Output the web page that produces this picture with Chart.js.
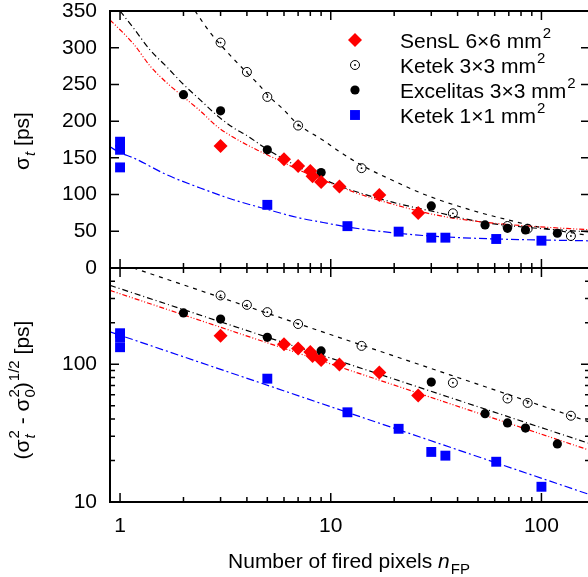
<!DOCTYPE html>
<html>
<head>
<script src="https://cdn.jsdelivr.net/npm/chart.js@4.4.1/dist/chart.umd.min.js"></script>
<style>
body { margin: 0; width: 588px; height: 577px; overflow: hidden; background: #fff; position: relative; }
canvas { position: absolute; left: 0; top: 0; }
</style>
</head>
<body>
<canvas id="topChart" width="600" height="577"></canvas>
<canvas id="botChart" width="600" height="577"></canvas>
<script>
// axis ranges and ticks
var xMin = 0.896, xMax = 170;
var xMajorTicks = [1, 10, 100];
var xMinorTicks = [2, 3, 4, 5, 6, 7, 8, 9, 20, 30, 40, 50, 60, 70, 80, 90];
var topYTicks = [0, 50, 100, 150, 200, 250, 300, 350];
var botYMajor = [10, 100];
var botYMinor = [20, 30, 40, 50, 60, 70, 80, 90, 200, 300, 400];

// SensL 6x6 mm2
var sensN     = [3, 6, 7, 8, 8.2, 9, 11, 17, 26];
var sensSigma = [166, 148, 139, 132, 125, 117, 111, 99.5, 75];
var sensCorr  = [161, 140, 130, 123, 115, 107.6, 99.5, 87, 59.3];
// Ketek 3x3 mm2
var k3N     = [3, 4, 5, 7, 14, 38, 69, 86, 138];
var k3Sigma = [307, 267, 233, 194, 136, 74.5, 57.2, 53.5, 43.6];
var k3Corr  = [316, 270, 239, 196, 136, 73.4, 56.4, 52.4, 42.3];
// Excelitas 3x3 mm2
var exN     = [2, 3, 5, 9, 30, 54, 69, 84, 119];
var exSigma = [236, 214, 161, 130, 84.5, 58.6, 54, 51.8, 47.3];
var exCorr  = [236, 213, 157, 125, 74.3, 43.8, 37.5, 34.4, 26.4];
// Ketek 1x1 mm2
var k1N     = [1, 1, 1, 5, 12, 21, 30, 35, 61, 100];
var k1Sigma = [172, 161, 137, 86, 57, 49.5, 41.3, 41.3, 39.5, 37.2];
var k1Corr  = [168, 157, 133, 78.6, 44.8, 34, 23.1, 21.7, 19.6, 12.9];

// fit curves
var sensFitN = [0.896, 1.16, 1.39, 1.67, 2, 2.4, 2.88, 3.45, 4.6, 5.74, 7.14, 10.3, 13.3, 19.1, 31.8, 51, 88, 170];
var sensFit  = [338, 305, 275, 252, 233, 214, 193, 178, 159, 146, 133, 114, 102, 88, 72, 63, 57, 52];
var exFitN = [1.0, 1.157, 1.388, 1.665, 2, 2.4, 2.88, 3.45, 3.99, 4.97, 6.9, 10.3, 19.1, 31.8, 51, 88, 170];
var exFit  = [350, 327, 297, 274, 250, 229, 208, 191, 180.5, 162, 139, 115, 90.5, 76, 63, 55, 49];
var k3FitN = [2.27, 2.67, 3.0, 3.45, 4.0, 4.61, 5.0, 5.96, 6.9, 9.2, 11.07, 14, 19.1, 28.5, 47.5, 68.4, 100, 170];
var k3Fit  = [350, 321, 304, 285, 266, 248, 236, 216, 197, 174, 158, 140, 121, 99, 78, 66, 55, 44];
var k1FitN = [0.896, 1, 1.157, 1.665, 2.4, 3.45, 4.97, 7.14, 9.2, 11.9, 21.3, 31.8, 61.4, 170];
var k1Fit  = [165, 157, 150, 127, 109, 93, 80, 68, 62, 56, 47, 43, 39.5, 37];

// straight fits on the log-log panel
var k3LineN = [1.157, 170],  k3Line = [500, 38];
var exLineN = [0.896, 170],  exLine = [374, 26.5];
var sensLineN = [0.896, 170], sensLine = [344, 23.7];
var k1LineN = [0.896, 170],  k1Line = [172, 11.3];

var FONT = '"Liberation Sans", Arial, sans-serif';
Chart.defaults.font.family = FONT;
Chart.defaults.color = '#000';

function pts(xs, ys) {
  return xs.map(function(x, i) { return {x: x, y: ys[i]}; });
}

// text with sub/superscripts
function drawRich(ctx, segs, x, y, size, align) {
  var small = Math.round(size * 0.72);
  var f = function(s, it) { return (it ? 'italic ' : '') + s + 'px ' + FONT; };
  var items = segs.map(function(s) {
    if (s.t != null) { ctx.font = f(size, s.i); return {w: ctx.measureText(s.t).width, s: s}; }
    var ws = 0, wp = 0;
    if (s.sub) { ctx.font = f(small, s.subI); ws = ctx.measureText(s.sub).width; }
    if (s.sup) { ctx.font = f(small, false); wp = ctx.measureText(s.sup).width; }
    return {w: Math.max(ws, wp) + 1, s: s};
  });
  var total = 0;
  items.forEach(function(it) { total += it.w; });
  var cx = align === 'center' ? x - total / 2 : x;
  ctx.textAlign = 'left';
  ctx.textBaseline = 'alphabetic';
  items.forEach(function(it) {
    var s = it.s;
    if (s.t != null) { ctx.font = f(size, s.i); ctx.fillText(s.t, cx, y); }
    else {
      if (s.sub) { ctx.font = f(small, s.subI); ctx.fillText(s.sub, cx + 1, y + size * 0.3); }
      if (s.sup) { ctx.font = f(small, false); ctx.fillText(s.sup, cx + 1, y - size * 0.5); }
    }
    cx += it.w;
  });
}

// frame with inward ticks on all four sides
var framePlugin = {
  id: 'frame',
  afterDraw: function(chart, args, opts) {
    var ctx = chart.ctx, a = chart.chartArea;
    var sx = chart.scales.x, sy = chart.scales.y;
    ctx.save();
    ctx.strokeStyle = '#000';
    ctx.lineWidth = 1.5;
    ctx.beginPath();
    function xt(v, len) {
      var p = sx.getPixelForValue(v);
      ctx.moveTo(p, a.bottom); ctx.lineTo(p, a.bottom - len);
      ctx.moveTo(p, a.top); ctx.lineTo(p, a.top + len);
    }
    function yt(v, len) {
      var p = sy.getPixelForValue(v);
      ctx.moveTo(a.left, p); ctx.lineTo(a.left + len, p);
      ctx.moveTo(a.right, p); ctx.lineTo(a.right - len, p);
    }
    xMajorTicks.forEach(function(v) { xt(v, 9); });
    xMinorTicks.forEach(function(v) { xt(v, 5); });
    opts.yMajor.forEach(function(v) { yt(v, 9); });
    opts.yMinor.forEach(function(v) { yt(v, 5); });
    ctx.stroke();
    ctx.lineWidth = 2;
    ctx.strokeRect(a.left, a.top, a.right - a.left, a.bottom - a.top);
    ctx.fillStyle = '#000';
    opts.titles.forEach(function(t) {
      ctx.save();
      ctx.translate(t.x, t.y);
      if (t.rot) ctx.rotate(-Math.PI / 2);
      drawRich(ctx, t.segs, 0, 0, 21, 'center');
      ctx.restore();
    });
    ctx.restore();
  }
};

// legend inside the upper panel
var keyPlugin = {
  id: 'key',
  afterDraw: function(chart, args, opts) {
    if (!opts.show) return;
    var ctx = chart.ctx;
    var row = 0;
    chart.data.datasets.forEach(function(ds) {
      if (!ds.label) return;
      var y = 40 + row * 25;
      ctx.save();
      ctx.fillStyle = ds.backgroundColor;
      ctx.strokeStyle = ds.borderColor;
      ctx.lineWidth = ds.borderWidth;
      Chart.helpers.drawPoint(ctx, {pointStyle: ds.pointStyle, radius: ds.pointRadius, rotation: 0, borderWidth: ds.borderWidth}, 355, y);
      if (ds.centerDot) {
        ctx.fillStyle = '#000';
        ctx.beginPath(); ctx.arc(355, y, 0.9, 0, 2 * Math.PI); ctx.fill();
      }
      ctx.fillStyle = '#000';
      drawRich(ctx, [{t: ds.label}, {sup: '2'}], 400, y + 8, 21, 'left');
      ctx.restore();
      row++;
    });
  }
};

function markerSets(sigmaSens, sigmaK3, sigmaEx, sigmaK1) {
  return [
    {label: 'SensL 6×6 mm', data: pts(sensN, sigmaSens), pointStyle: 'rectRot', pointRadius: 7,
     backgroundColor: '#ff0000', borderColor: '#ff0000', borderWidth: 0},
    {label: 'Ketek 3×3 mm', data: pts(k3N, sigmaK3), pointStyle: 'circle', pointRadius: 4.5,
     backgroundColor: 'rgba(255,255,255,0)', borderColor: '#000', borderWidth: 1, centerDot: true},
    {data: pts(k3N, sigmaK3), pointStyle: 'circle', pointRadius: 0.9,
     backgroundColor: '#000', borderColor: '#000', borderWidth: 0},
    {label: 'Excelitas 3×3 mm', data: pts(exN, sigmaEx), pointStyle: 'circle', pointRadius: 4.6,
     backgroundColor: '#000', borderColor: '#000', borderWidth: 0},
    {label: 'Ketek 1×1 mm', data: pts(k1N, sigmaK1), pointStyle: 'rect', pointRadius: 7,
     backgroundColor: '#0000ff', borderColor: '#0000ff', borderWidth: 0}
  ];
}

function fitSet(xs, ys, color, dash) {
  return {data: pts(xs, ys), showLine: true, pointRadius: 0, borderColor: color, borderWidth: 1.2,
          borderDash: dash, cubicInterpolationMode: 'monotone', fill: false};
}

var dashSens = [5, 2, 1, 2, 1, 2];
var dashEx = [6, 3, 1, 3];
var dashK3 = [4, 5];
var dashK1 = [8, 3, 2, 3];

var tickFont = {family: FONT, size: 21, lineHeight: 1};
// label gap comes from an invisible tick length so the scale adds no extra padding
var yGrid = {display: false, drawTicks: true, tickLength: 13};

// upper panel: sigma_t
new Chart(document.getElementById('topChart'), {
  type: 'scatter',
  data: {
    datasets: markerSets(sensSigma, k3Sigma, exSigma, k1Sigma).concat([
      fitSet(sensFitN, sensFit, '#ff0000', dashSens),
      fitSet(exFitN, exFit, '#000', dashEx),
      fitSet(k3FitN, k3Fit, '#000', dashK3),
      fitSet(k1FitN, k1Fit, '#0000ff', dashK1)
    ])
  },
  options: {
    responsive: false, animation: false, events: [],
    layout: {padding: {left: 0, top: 11, right: 10, bottom: 309}},
    plugins: {
      legend: {display: false}, tooltip: {enabled: false},
      frame: {yMajor: topYTicks, yMinor: [],
              titles: [{x: 29, y: 141, rot: true, segs: [{t: 'σ'}, {sub: 't', subI: true}, {t: ' [ps]'}]}]},
      key: {show: true}
    },
    scales: {
      x: {type: 'logarithmic', min: xMin, max: xMax, display: false},
      y: {type: 'linear', min: 0, max: 350,
          afterBuildTicks: function(s) { s.ticks = topYTicks.map(function(v) { return {value: v}; }); },
          afterFit: function(s) { s.width = 110; },
          grid: yGrid, border: {display: false},
          ticks: {padding: 0, font: tickFont, color: '#000'}}
    }
  },
  plugins: [framePlugin, keyPlugin]
});

// lower panel: (sigma_t^2 - sigma_0^2)^(1/2)
new Chart(document.getElementById('botChart'), {
  type: 'scatter',
  data: {
    datasets: markerSets(sensCorr, k3Corr, exCorr, k1Corr).concat([
      fitSet(sensLineN, sensLine, '#ff0000', dashSens),
      fitSet(exLineN, exLine, '#000', dashEx),
      fitSet(k3LineN, k3Line, '#000', dashK3),
      fitSet(k1LineN, k1Line, '#0000ff', dashK1)
    ])
  },
  options: {
    responsive: false, animation: false, events: [],
    layout: {padding: {left: 0, top: 268, right: 10, bottom: 0}},
    plugins: {
      legend: {display: false}, tooltip: {enabled: false},
      frame: {yMajor: botYMajor, yMinor: botYMinor,
              titles: [
                {x: 29, y: 390, rot: true, segs: [{t: '(σ'}, {sup: '2', sub: 't', subI: true}, {t: ' - σ'},
                  {sup: '2', sub: '0'}, {t: ')'}, {sup: '1/2'}, {t: ' [ps]'}]},
                {x: 349, y: 568, rot: false, segs: [{t: 'Number of fired pixels '}, {t: 'n', i: true}, {sub: 'FP'}]}
              ]},
      key: {show: false}
    },
    scales: {
      x: {type: 'logarithmic', min: xMin, max: xMax,
          afterBuildTicks: function(s) { s.ticks = xMajorTicks.map(function(v) { return {value: v}; }); },
          afterFit: function(s) { s.height = 75; },
          grid: {display: false, drawTicks: false}, border: {display: false},
          ticks: {padding: 14, font: tickFont, color: '#000', autoSkip: false, maxRotation: 0,
                  callback: function(v) { return String(v); }}},
      y: {type: 'logarithmic', min: 10, max: 500,
          afterBuildTicks: function(s) { s.ticks = botYMajor.map(function(v) { return {value: v}; }); },
          afterFit: function(s) { s.width = 110; },
          grid: yGrid, border: {display: false},
          ticks: {padding: 0, font: tickFont, color: '#000', callback: function(v) { return String(v); }}}
    }
  },
  plugins: [framePlugin, keyPlugin]
});
</script>
</body>
</html>
